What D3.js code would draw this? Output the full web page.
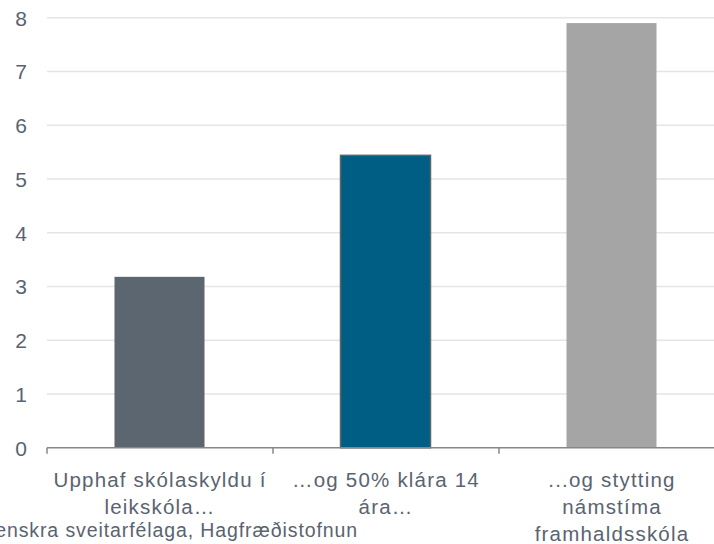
<!DOCTYPE html>
<html>
<head>
<meta charset="utf-8">
<script src="https://cdn.jsdelivr.net/npm/d3@7"></script>
<style>
  html, body { margin: 0; padding: 0; background: #fff; }
  svg { display: block; font-family: "Liberation Sans", Arial, sans-serif; }
</style>
</head>
<body>
<svg id="chart" width="714" height="544"></svg>
<script>
// Categories, with their wrapped label lines
const categories = [
  "Upphaf skólaskyldu í leikskóla…",
  "…og 50% klára 14 ára…",
  "...og stytting námstíma framhaldsskóla"
];
const categoryLines = [
  ["Upphaf skólaskyldu í", "leikskóla…"],
  ["…og 50% klára 14", "ára…"],
  ["...og stytting", "námstíma", "framhaldsskóla"]
];
const values = [3.18, 5.44, 7.9];
const barColors = ["#5b6670", "#005e85", "#a5a5a5"];
const yTicks = [0, 1, 2, 3, 4, 5, 6, 7, 8];
const sourceText = "Heimild: Hagstofa Íslands, Samband íslenskra sveitarfélaga, Hagfræðistofnun";

const svg = d3.select("#chart");
const textColor = "#5a6370";

const x = d3.scaleBand()
  .domain(categories)
  .range([47, 725])
  .paddingInner(0)
  .paddingOuter(0);

const y = d3.scaleLinear()
  .domain([0, 8])
  .range([447.8, 17.7]);

// Horizontal gridlines
svg.append("g")
  .selectAll("line")
  .data(yTicks.filter(d => d > 0))
  .join("line")
  .attr("x1", 47)
  .attr("x2", 725)
  .attr("y1", d => y(d))
  .attr("y2", d => y(d))
  .attr("stroke", "#e5e5e5")
  .attr("stroke-width", 1.5);

// Y axis labels
const yAxis = d3.axisLeft(y).tickValues(yTicks).tickSize(0).tickPadding(0);
const yg = svg.append("g").attr("transform", "translate(27,0)").call(yAxis);
yg.select(".domain").remove();
yg.selectAll("text")
  .attr("fill", textColor)
  .attr("font-size", 21)
  .attr("font-family", "Liberation Sans, Arial, sans-serif")
  .attr("dy", "0.35em");

// Bars
const barWidth = 90;
svg.append("g")
  .selectAll("rect")
  .data(values)
  .join("rect")
  .attr("x", (d, i) => x(categories[i]) + x.bandwidth() / 2 - barWidth / 2 - 0.5)
  .attr("width", barWidth)
  .attr("y", d => y(d))
  .attr("height", d => y(0) - y(d))
  .attr("fill", (d, i) => barColors[i])
  .attr("stroke", (d, i) => i === 1 ? "#5f6468" : "none")
  .attr("stroke-width", 1.5);

// X axis baseline with tick marks at band boundaries
const xAxisG = svg.append("g");
xAxisG.append("line")
  .attr("x1", 47).attr("x2", 725)
  .attr("y1", y(0)).attr("y2", y(0))
  .attr("stroke", "#878787")
  .attr("stroke-width", 1.5);
const boundaries = categories.map(c => x(c));
xAxisG.selectAll("line.tick")
  .data(boundaries)
  .join("line")
  .attr("class", "tick")
  .attr("x1", d => d).attr("x2", d => d)
  .attr("y1", y(0)).attr("y2", y(0) + 6)
  .attr("stroke", "#878787")
  .attr("stroke-width", 1.5);

// Category labels
const labels = svg.append("g")
  .selectAll("text")
  .data(categoryLines)
  .join("text")
  .attr("text-anchor", "middle")
  .attr("fill", textColor)
  .attr("font-size", 20.5)
  .attr("letter-spacing", 1.2)
  .attr("y", 487);
labels.each(function(lines, i) {
  const cx = x(categories[i]) + x.bandwidth() / 2;
  d3.select(this).selectAll("tspan")
    .data(lines)
    .join("tspan")
    .attr("x", cx)
    .attr("dy", (d, j) => j === 0 ? 0 : 27)
    .text(d => d);
});

// Source note
svg.append("text")
  .attr("x", 358)
  .attr("y", 537)
  .attr("text-anchor", "end")
  .attr("fill", textColor)
  .attr("font-size", 19.5)
  .attr("letter-spacing", 0.9)
  .text(sourceText);
</script>
</body>
</html>
